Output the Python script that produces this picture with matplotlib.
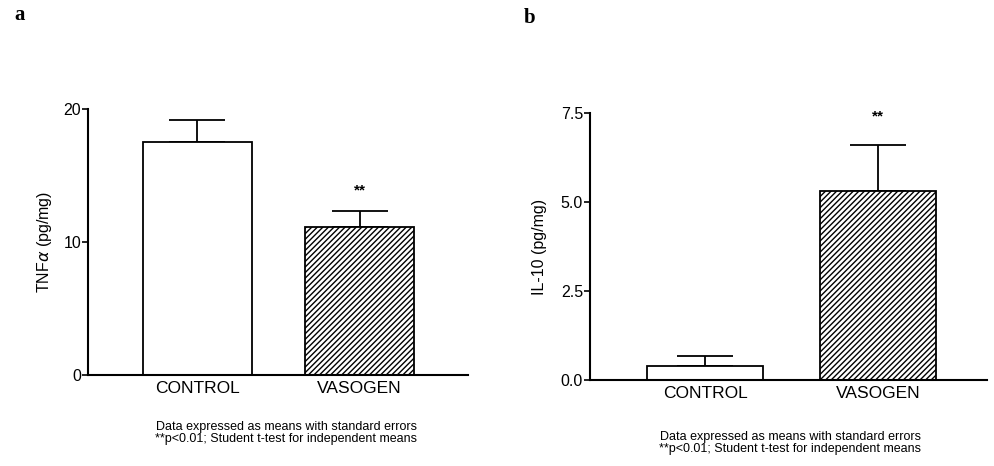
import matplotlib.pyplot as plt

plt.rcParams['font.family'] = ['Liberation Sans', 'DejaVu Sans']
plt.rcParams['hatch.linewidth'] = 1.0

# data
groups = ["CONTROL", "VASOGEN"]
tnf_mean = [17.5, 11.1]
tnf_sem = [1.7, 1.2]
il10_mean = [0.38, 5.3]
il10_sem = [0.30, 1.3]
caption = ("Data expressed as means with standard errors\n"
           "**p<0.01; Student t-test for independent means")

fig = plt.figure(figsize=(9.94, 4.66), dpi=100)
ax1 = fig.add_axes([0.0885, 0.1953, 0.382, 0.571])
ax2 = fig.add_axes([0.5936, 0.1845, 0.3994, 0.573])


def draw_panel(ax, means, sems, ylim, ticks, ticklabels, ylabel, star_off, xlim, pad):
    x = list(range(len(groups)))
    ax.bar(x, means, width=0.67, color="white", edgecolor="black",
           linewidth=1.3, hatch=[None, "//////"], zorder=2)
    ax.errorbar(x, means, yerr=[[0] * len(sems), sems], fmt="none",
                ecolor="black", elinewidth=1.3, capsize=20, capthick=1.3, zorder=1)
    ax.text(1, means[1] + sems[1] + star_off, "**", ha="center", va="center",
            fontsize=11, fontweight="bold")
    ax.set_xlim(*xlim)
    ax.set_ylim(*ylim)
    ax.set_yticks(ticks)
    ax.set_yticklabels(ticklabels)
    ax.set_xticks(x)
    ax.set_xticklabels(groups, fontsize=12.5)
    ax.tick_params(axis="x", length=0, pad=4)
    ax.tick_params(axis="y", length=4, width=1.2, labelsize=11.5, pad=1)
    ax.set_ylabel(ylabel, fontsize=11.5, labelpad=pad)
    for s in ["top", "right"]:
        ax.spines[s].set_visible(False)
    for s in ["left", "bottom"]:
        ax.spines[s].set_linewidth(1.5)


draw_panel(ax1, tnf_mean, tnf_sem, (0, 20), [0, 10, 20], ["0", "10", "20"],
           "TNF$\\alpha$ (pg/mg)", 1.6, (-0.674, 1.665), 7)
draw_panel(ax2, il10_mean, il10_sem, (0, 7.5), [0, 2.5, 5.0, 7.5],
           ["0.0", "2.5", "5.0", "7.5"], "IL-10 (pg/mg)", 0.8, (-0.665, 1.63), 10)

fig.text(14 / 994, 1 - 15 / 466, "a", fontsize=15, fontweight="bold",
         family="Liberation Serif", va="center", ha="left")
fig.text(524 / 994, 1 - 18 / 466, "b", fontsize=15, fontweight="bold",
         family="Liberation Serif", va="center", ha="left")

fig.text(286 / 994, 1 - 433 / 466, caption, ha="center", va="center",
         fontsize=9, linespacing=1.05)
fig.text(790 / 994, 1 - 443 / 466, caption, ha="center", va="center",
         fontsize=9, linespacing=1.05)

fig.savefig("out.png", dpi=100)
